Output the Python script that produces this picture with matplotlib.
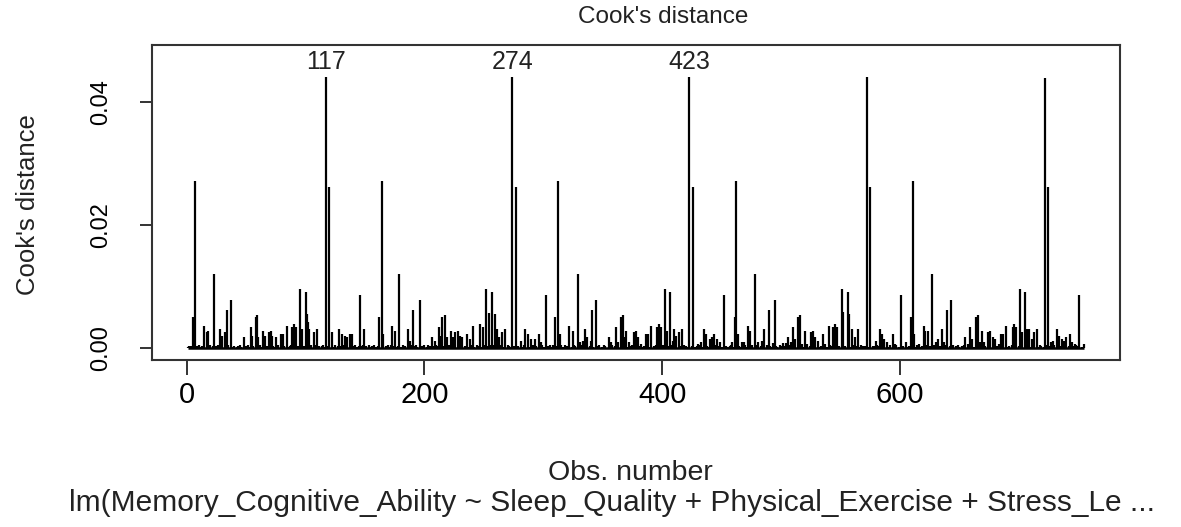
import numpy as np
import matplotlib
matplotlib.use("Agg")
import matplotlib.pyplot as plt

# ---------------- data ----------------
n_obs = 755

# background (small) Cook's distances, one digit per observation, in units of 1e-4
bg_rows = [
    "2314052136 0241503126 0421350214 0312506213 0241520314",
    "0521340261 3520140312 6042135024 1306214503 1204152036",
    "1402513062 4103520413 0621503140 2613502413 0521403612",
    "3052140621 3502410362 1504120362 1504130261 4052130426",
    "1250314206 3120541302 6150421305 2614032150 4216031205",
    "4130251620 4135021406 3125402130 6215403120 6413025160",
    "2140352610 4213502614 0312054130 2615042136 0214035120",
    "6310241503 2160421350 2140613250 4120361402 5130624103",
    "5204130621 5402130614 0251360241 5032160421 3502614032",
    "1504213602 5140326105 2140361250 4130261540 3216042150",
    "3140625130 4216035120 4613025140 6213054120 6314025130",
    "6214035210 6413025140 3621504120 6314205130 2614035120",
    "4130621450 3126042135 0162431052 1403621504 1302614052",
    "1306214053 1204613025 1406321504 1306214052 1306241503",
    "2140631502 4130621540 2316042135 0261403512 0462130541",
    "30215",
]

# observations with visible bars: obs number and Cook's distance (units of 1e-4)
spike_obs = [
    5, 7, 15, 17, 18, 23, 28, 30, 32, 34, 37, 48, 54, 55, 58, 59, 60, 64, 66, 69,
    71, 72, 75, 79, 81, 84, 89, 90, 92, 95, 97, 100, 101, 102, 103, 107, 110, 117, 120, 122,
    128, 131, 133, 135, 137, 139, 146, 149,
    162, 164, 165, 173, 175, 179, 186, 188, 190, 196, 206, 209, 212, 213, 215, 217, 219, 222,
    224, 226, 228, 230, 232, 236, 238, 241, 247, 249, 252, 254, 257, 259, 261, 263, 265, 268,
    274, 277, 281, 285, 287, 290, 293, 296, 298, 302,
    310, 312, 314, 322, 325, 329, 331, 333, 335, 337, 340, 341, 344, 355, 357, 361, 363, 365,
    367, 368, 370, 372, 376, 378, 380, 382, 386, 388, 391, 396, 397, 399, 402, 404, 407, 409,
    410, 412, 414, 417, 423, 426, 430, 433, 435, 437, 440, 442, 444, 446, 449, 452,
    459, 461, 462, 464, 467, 469, 472, 474, 478, 481, 484, 486, 490, 493, 495, 502, 504, 506,
    508, 510, 512, 514, 516, 518, 520, 522, 525, 527, 529, 531, 535, 537, 540, 544, 545, 547,
    551, 552, 556, 557, 560, 562, 565, 572, 575, 578, 580, 583, 585, 587, 589, 594, 596, 601, 605,
    609, 611, 612, 616, 620, 621, 624, 627, 630, 632, 635, 637, 640, 643, 655, 657, 659, 661,
    664, 666, 667, 669, 671, 674, 676, 678, 680, 683, 685, 687, 689, 692, 695, 696, 698, 701,
    703, 705, 707, 709, 711, 713, 715, 722, 725, 727, 729, 732, 734, 736, 738, 740, 743, 745,
    747, 751, 755,
]
spike_vals = [
    51, 272, 37, 26, 28, 120, 31, 20, 27, 62, 78, 18, 35, 20, 51, 54, 18, 28, 20, 27,
    28, 20, 18, 23, 23, 37, 34, 39, 34, 97, 32, 92, 56, 42, 31, 26, 31, 440.5, 262, 26,
    31, 23, 20, 18, 23, 23, 87, 31,
    51, 272, 23, 37, 28, 120, 31, 12, 62, 78, 18, 12, 35, 20, 51, 54, 18, 28,
    18, 27, 28, 20, 18, 23, 15, 37, 39, 34, 97, 58, 92, 55, 31, 18, 26, 31,
    440.3, 262, 12, 31, 23, 15, 15, 23, 10, 87,
    51, 272, 23, 37, 28, 120, 10, 12, 31, 18, 12, 62, 78, 18, 10, 35, 10, 51,
    54, 18, 28, 10, 27, 28, 18, 7, 23, 23, 37, 34, 39, 34, 97, 28, 92, 12,
    31, 20, 26, 31, 440.1, 262, 7, 10, 31, 23, 15, 18, 23, 15, 10, 87,
    10, 51, 272, 23, 10, 10, 37, 28, 120, 10, 12, 31, 62, 8, 78, 8, 8, 18,
    10, 35, 15, 51, 54, 7, 28, 7, 27, 28, 18, 12, 23, 7, 37, 34, 39, 34,
    97, 59, 92, 55, 31, 18, 31, 439.8, 262, 4, 12, 31, 23, 15, 10, 23, 7, 87, 10,
    51, 272, 23, 7, 37, 28, 28, 120, 10, 15, 31, 10, 62, 78, 18, 7, 35, 15,
    51, 54, 10, 28, 10, 27, 28, 18, 15, 7, 23, 23, 37, 4, 34, 39, 34, 97,
    26, 92, 31, 31, 15, 26, 31, 439.6, 262, 10, 12, 31, 20, 15, 12, 18, 23, 10,
    7, 87, 7,
]

x_ticks = [0, 200, 400, 600]
y_ticks = [0.00, 0.02, 0.04]
y_tick_labels = ["0.00", "0.02", "0.04"]
n_label = 3

title_text = "Cook's distance"
x_label = "Obs. number"
y_label = "Cook's distance"
caption = "lm(Memory_Cognitive_Ability ~ Sleep_Quality + Physical_Exercise + Stress_Le ..."

# ---------------- build values ----------------
bg = "".join(bg_rows).replace(" ", "")
cooks = np.array([int(c) for c in bg[:n_obs]], dtype=float) * 1e-4
for o, v in zip(spike_obs, spike_vals):
    cooks[o - 1] = v * 1e-4
obs = np.arange(1, len(cooks) + 1)

# ---------------- figure ----------------
W, H = 1181, 527
fig = plt.figure(figsize=(W / 100, H / 100), dpi=100)
plt.rcParams['font.family'] = ['Liberation Sans', 'DejaVu Sans']

L, R, T, B = 152, 1120, 45, 360
ax = fig.add_axes([L / W, 1 - B / H, (R - L) / W, (B - T) / H])

ax.vlines(obs, 0, cooks, color='black', lw=1.6)
ax.hlines(0, obs[0], obs[-1], color='black', lw=1.8)

n = len(cooks)
xr = n - 1
ax.set_xlim(1 - 0.04 * xr, n + 0.04 * xr)
ymax = cooks.max() * 1.075
ax.set_ylim(-0.04 * ymax, ymax * 1.04)

# labels for the largest values
top = np.argsort(cooks)[::-1][:n_label]
for i in top:
    ax.annotate(str(i + 1), (obs[i], cooks[i]), xytext=(0, 2), textcoords='offset points',
                ha='center', va='bottom', fontsize=18, color='#222222')

for s in ax.spines.values():
    s.set_linewidth(1.5)
    s.set_color('#333333')

ax.set_xticks(x_ticks)
ax.set_xticklabels([str(t) for t in x_ticks])
ax.set_yticks(y_ticks)
ax.set_yticklabels(y_tick_labels, rotation=90, va='center')
ax.tick_params(axis='x', length=11, width=1.4, color='#333333', labelsize=21, pad=4)
ax.tick_params(axis='y', length=9, width=1.4, color='#333333', labelsize=17, pad=20)

fig.text(663 / W, 1 - 17 / H, title_text, ha='center', va='center', fontsize=17.5, color='#222222')
fig.text(630 / W, 1 - 473 / H, x_label, ha='center', va='center', fontsize=20.5, color='#222222')
fig.text(28 / W, 1 - 205 / H, y_label, ha='center', va='center', rotation=90, fontsize=18.5, color='#222222')
fig.text(612 / W, 1 - 503 / H, caption, ha='center', va='center', fontsize=21.5, color='#222222')

fig.savefig("out.png", dpi=100)
